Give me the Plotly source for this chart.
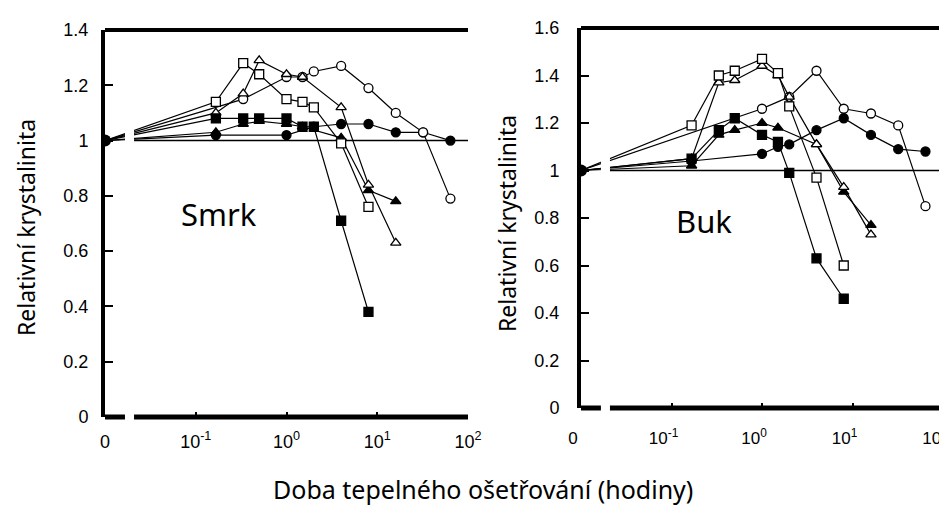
import plotly.graph_objects as go
from plotly.subplots import make_subplots

# time 0 is put at 10^-2 on the log axis (broken axis in the original)
ZERO = 0.01

# Smrk (spruce) - relative crystallinity vs. heating time (hours)
smrk_open_square_t = [1/6, 1/3, 0.5, 1, 1.5, 2, 4, 8]
smrk_open_square_y = [1.14, 1.28, 1.24, 1.15, 1.14, 1.12, 0.99, 0.76]
smrk_filled_square_t = [1/6, 1/3, 0.5, 1, 1.5, 2, 4, 8]
smrk_filled_square_y = [1.08, 1.08, 1.08, 1.08, 1.05, 1.05, 0.71, 0.38]
smrk_open_triangle_t = [1/6, 1/3, 0.5, 1, 1.5, 4, 8, 16]
smrk_open_triangle_y = [1.10, 1.17, 1.29, 1.24, 1.23, 1.12, 0.84, 0.63]
smrk_filled_triangle_t = [1/6, 1/3, 0.5, 1, 1.5, 4, 8, 16]
smrk_filled_triangle_y = [1.03, 1.06, 1.07, 1.06, 1.05, 1.01, 0.82, 0.78]
smrk_open_circle_t = [1/3, 1, 1.5, 2, 4, 8, 16, 32, 64]
smrk_open_circle_y = [1.15, 1.23, 1.23, 1.25, 1.27, 1.19, 1.10, 1.03, 0.79]
smrk_filled_circle_t = [1/6, 1, 2, 4, 8, 16, 32, 64]
smrk_filled_circle_y = [1.02, 1.02, 1.05, 1.06, 1.06, 1.03, 1.03, 1.00]

# Buk (beech)
buk_open_square_t = [1/6, 1/3, 0.5, 1, 1.5, 2, 4, 8]
buk_open_square_y = [1.19, 1.40, 1.42, 1.47, 1.41, 1.27, 0.97, 0.60]
buk_filled_square_t = [1/6, 1/3, 0.5, 1, 1.5, 2, 4, 8]
buk_filled_square_y = [1.05, 1.17, 1.22, 1.15, 1.12, 0.99, 0.63, 0.46]
buk_open_triangle_t = [1/6, 1/3, 0.5, 1, 1.5, 2, 4, 8, 16]
buk_open_triangle_y = [1.05, 1.37, 1.38, 1.44, 1.40, 1.31, 1.11, 0.93, 0.73]
buk_filled_triangle_t = [1/6, 1/3, 0.5, 1, 1.5, 4, 8, 16]
buk_filled_triangle_y = [1.02, 1.15, 1.17, 1.20, 1.18, 1.11, 0.91, 0.77]
buk_open_circle_t = [1, 2, 4, 8, 16, 32, 64]
buk_open_circle_y = [1.26, 1.31, 1.42, 1.26, 1.24, 1.19, 0.85]
buk_filled_circle_t = [1/6, 1, 1.5, 2, 4, 8, 16, 32, 64]
buk_filled_circle_y = [1.04, 1.07, 1.10, 1.11, 1.17, 1.22, 1.15, 1.09, 1.08]

x_tickvals = [ZERO, 0.1, 1, 10, 100]
x_ticktext = ['0', '10<sup>-1</sup>', '10<sup>0</sup>', '10<sup>1</sup>', '10<sup>2</sup>']

smrk = [
    (smrk_filled_circle_t, smrk_filled_circle_y, 'circle', True),
    (smrk_open_circle_t, smrk_open_circle_y, 'circle', False),
    (smrk_filled_triangle_t, smrk_filled_triangle_y, 'triangle-up', True),
    (smrk_open_triangle_t, smrk_open_triangle_y, 'triangle-up', False),
    (smrk_filled_square_t, smrk_filled_square_y, 'square', True),
    (smrk_open_square_t, smrk_open_square_y, 'square', False),
]
buk = [
    (buk_filled_circle_t, buk_filled_circle_y, 'circle', True),
    (buk_open_circle_t, buk_open_circle_y, 'circle', False),
    (buk_filled_triangle_t, buk_filled_triangle_y, 'triangle-up', True),
    (buk_open_triangle_t, buk_open_triangle_y, 'triangle-up', False),
    (buk_filled_square_t, buk_filled_square_y, 'square', True),
    (buk_open_square_t, buk_open_square_y, 'square', False),
]

fig = make_subplots(rows=1, cols=2)


def add_series(t, y, symbol, filled, col):
    # every curve starts from the common point (0 h, 1.0)
    n = len(t)
    fig.add_trace(go.Scatter(
        x=[ZERO] + t, y=[1.0] + y, mode='lines+markers',
        line=dict(color='black', width=1.2),
        marker=dict(symbol=symbol, size=[0] + [9] * n, opacity=[0] + [1] * n,
                    color='black' if filled else 'white',
                    line=dict(color='black', width=1.3)),
        showlegend=False), row=1, col=col)


for t, y, s, f in smrk:
    add_series(t, y, s, f, 1)
for t, y, s, f in buk:
    add_series(t, y, s, f, 2)

# the shared starting point at time 0
for col in (1, 2):
    fig.add_trace(go.Scatter(x=[ZERO], y=[1.0], mode='markers',
                             marker=dict(symbol='circle', size=12, color='black'),
                             showlegend=False), row=1, col=col)

tick_family = 'Liberation Sans Narrow, Liberation Sans, Arial'

fig.update_xaxes(type='log', range=[-2, 2], tickvals=x_tickvals, ticktext=x_ticktext,
                 ticks='inside', ticklen=5, tickwidth=1.5, tickcolor='black',
                 showgrid=False, zeroline=False, showline=False, ticklabeloverflow='allow',
                 tickfont=dict(family=tick_family, size=18, color='black'))
fig.update_yaxes(dtick=0.2, ticks='inside', ticklen=8, tickwidth=2, tickcolor='black',
                 showgrid=False, zeroline=False, showline=True, linewidth=4, linecolor='black',
                 tickfont=dict(family=tick_family, size=18, color='black'))

fig.update_layout(
    width=947, height=510,
    margin=dict(l=0, r=0, t=0, b=0),
    plot_bgcolor='white', paper_bgcolor='white',
    xaxis=dict(domain=[97 / 947, 460 / 947], ticklabelstandoff=12, automargin=False),
    xaxis2=dict(domain=[573 / 947, 935 / 947], ticklabelstandoff=18, ticklabelshift=-8,
                tickfont=dict(family=tick_family, size=17, color='black'), automargin=False),
    yaxis=dict(domain=[1 - 409 / 510, 1 - 22 / 510], range=[0, 1.4], mirror=False,
               ticklabelstandoff=9, automargin=False),
    yaxis2=dict(domain=[1 - 400 / 510, 1 - 20 / 510], range=[0, 1.6], mirror=True,
                ticklabelstandoff=14, automargin=False),
)

# broken bottom axis, top border and the reference line at 1.0
shapes = []
for xr, yr in (('x', 'y'), ('x2', 'y2')):
    shapes.append(dict(type='line', xref=xr, yref=yr + ' domain', x0=ZERO, x1=100, y0=0, y1=0,
                       line=dict(color='black', width=5), layer='above'))
    shapes.append(dict(type='rect', xref=xr, yref=yr + ' domain', x0=10 ** -1.78, x1=10 ** -1.68,
                       y0=-0.03, y1=0.97, fillcolor='white', line=dict(width=0), layer='above'))
    shapes.append(dict(type='line', xref=xr, yref=yr + ' domain', x0=ZERO, x1=100, y0=1, y1=1,
                       line=dict(color='black', width=4), layer='above'))
    shapes.append(dict(type='line', xref=xr, yref=yr, x0=10 ** -1.68, x1=100, y0=1, y1=1,
                       line=dict(color='black', width=1.5), layer='below'))
fig.update_layout(shapes=shapes)

title_font = dict(family='Noto Sans, Open Sans', size=25, color='black')
ytitle_font = dict(family='Noto Sans, Open Sans', size=23, color='black')
panel_font = dict(family='Noto Sans, Open Sans', size=31, color='black')


def add_label(px, py, text, font, angle=0):
    fig.add_annotation(x=px / 947, y=1 - py / 510, xref='paper', yref='paper', text=text,
                       xanchor='center', yanchor='middle', textangle=angle,
                       showarrow=False, font=font)


add_label(211, 206, 'Smrk', panel_font)
add_label(696, 213, 'Buk', panel_font)
add_label(18, 220, 'Relativní krystalinita', ytitle_font, -90)
add_label(499, 215, 'Relativní krystalinita', ytitle_font, -90)
add_label(475, 481, 'Doba tepelného ošetřování (hodiny)', title_font)

fig.write_html("out.html")
